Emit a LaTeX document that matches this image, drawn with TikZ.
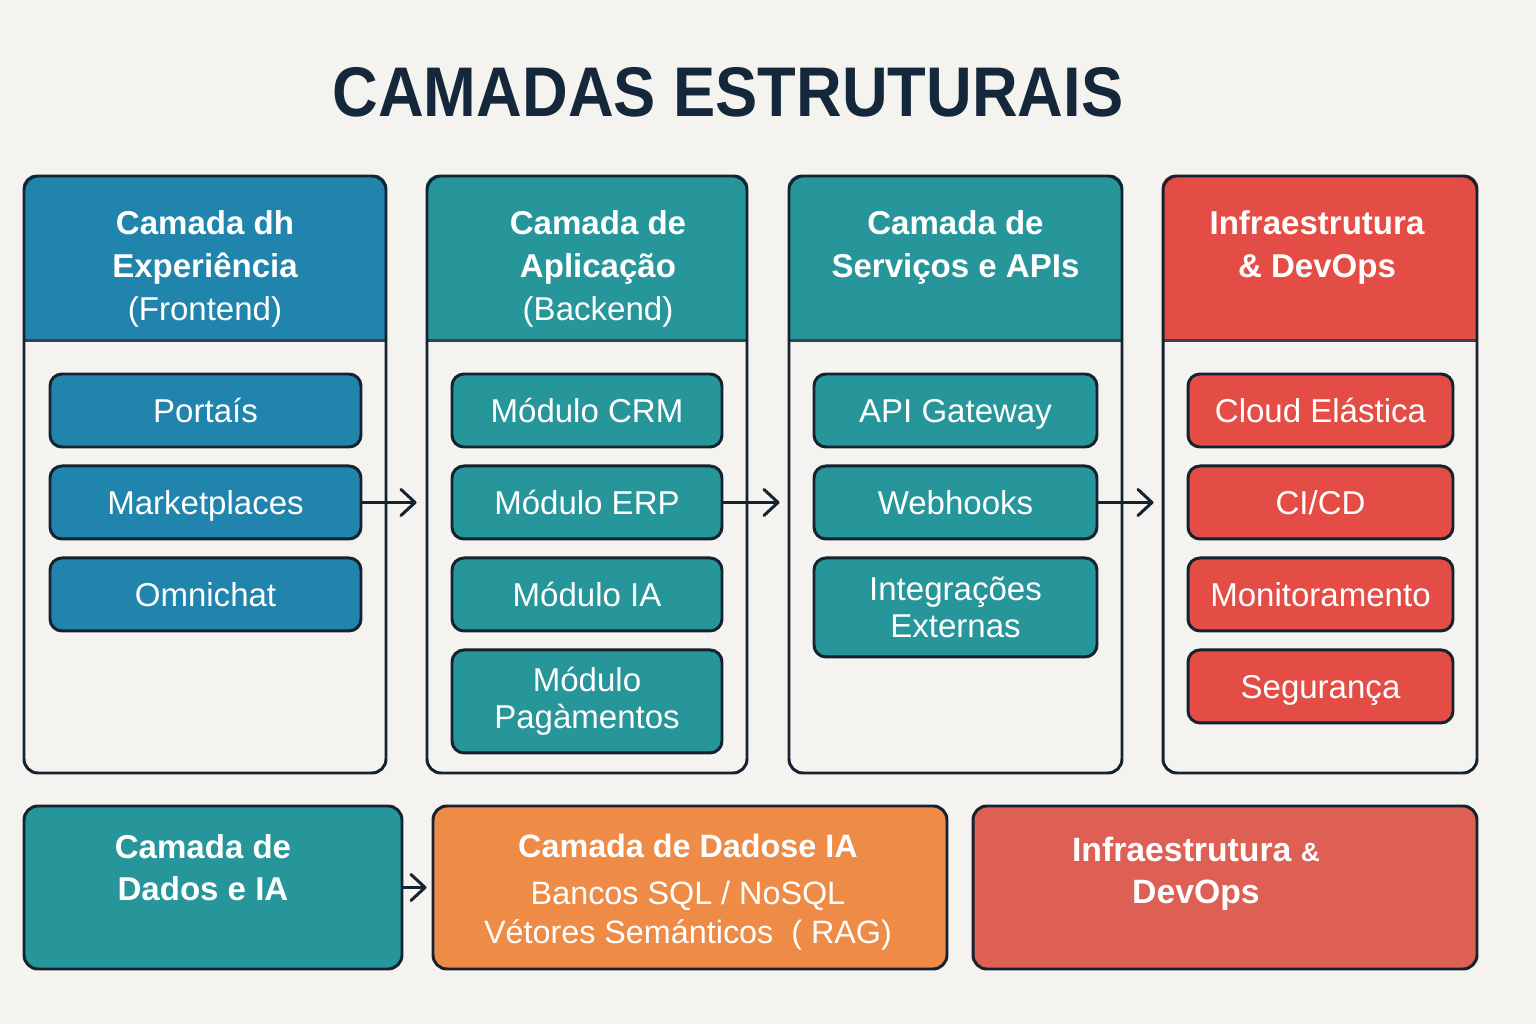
\documentclass[tikz,border=0pt]{standalone}
\usepackage{fontspec}
\setmainfont{Liberation Sans}
\newfontfamily\titlefont[FakeStretch=0.9]{Liberation Sans}
\usetikzlibrary{positioning, calc, arrows.meta, backgrounds}
\definecolor{paper}{HTML}{F4F3EF}
\definecolor{ink}{HTML}{14232F}
\definecolor{titleink}{HTML}{15273A}
\definecolor{frontblue}{HTML}{2184AD}
\definecolor{appteal}{HTML}{26969B}
\definecolor{infrared}{HTML}{E44D45}
\definecolor{dataorange}{HTML}{EE8B47}
\definecolor{opsred}{HTML}{DE6055}

\begin{document}
\begin{tikzpicture}[
    x=0.1mm, y=-0.1mm,
    >={Straight Barb[length=1.4mm,width=2.6mm,round]},
    line width=0.85pt,
    colframe/.style={
        draw=ink,
        rounded corners=1.4mm,
        minimum height=59.7mm,
        inner sep=0pt
    },
    hdtext/.style={
        text=white,
        font=\bfseries\fontsize{9.4}{12.2}\selectfont,
        align=center,
        anchor=north,
        inner sep=0pt
    },
    item/.style={
        draw=ink,
        rounded corners=1.2mm,
        text=white,
        font=\fontsize{9.4}{10.6}\selectfont,
        align=center,
        minimum height=7.3mm,
        text height=2.6mm,
        text depth=0.25mm,
        inner sep=0pt
    },
    twoline/.style={text height=, text depth=},
    expitem/.style={item, fill=frontblue, minimum width=31.1mm},
    appitem/.style={item, fill=appteal, minimum width=27mm},
    apiitem/.style={item, fill=appteal, minimum width=28.3mm},
    infitem/.style={item, fill=infrared, minimum width=26.5mm},
    basebox/.style={
        draw=ink,
        rounded corners=1.4mm,
        minimum height=16.3mm,
        inner sep=0pt
    },
    flow/.style={->, draw=ink, shorten >=0.8mm}
]

% title
\node[font=\titlefont\bfseries\fontsize{20}{24}\selectfont, text=titleink] (title) at (728,92) {CAMADAS ESTRUTURAIS};

% column frames
\node[colframe, minimum width=36.2mm] (col1) at (205,474.5) {};
\node[colframe, minimum width=32mm] (col2) at (587,474.5) {};
\node[colframe, minimum width=33.3mm] (col3) at (955.5,474.5) {};
\node[colframe, minimum width=31.4mm] (col4) at (1320,474.5) {};

\begin{scope}[on background layer]
  \fill[paper] (0,0) rectangle (1536,1024);
  \foreach \col/\clr in {col1/frontblue, col2/appteal, col3/appteal, col4/infrared}{
    \begin{scope}
      \clip[rounded corners=1.4mm] (\col.south west) rectangle (\col.north east);
      \fill[\clr] (\col.north west) rectangle ($(\col.north east)+(0,166)$);
    \end{scope}
    \draw[ink!85, line width=0.7pt] ($(\col.north west)+(0,166)$) -- ($(\col.north east)+(0,166)$);
  }
\end{scope}

% headers
\node[hdtext] (hd1) at ([yshift=-3.45mm]col1.north) {Camada dh\\Experiência\\\mdseries(Frontend)};
\node[hdtext] (hd2) at ([xshift=1.1mm, yshift=-3.45mm]col2.north) {Camada de\\Aplicação\\\mdseries(Backend)};
\node[hdtext] (hd3) at ([yshift=-3.45mm]col3.north) {Camada de\\Serviços e APIs};
\node[hdtext] (hd4) at ([xshift=-0.3mm, yshift=-3.45mm]col4.north) {Infraestrutura\\\& DevOps};

% experience items
\node[expitem] (portais) at (205.5,410.5) {Portaís};
\node[expitem, below=1.6mm of portais] (mkt) {Marketplaces};
\node[expitem, below=1.6mm of mkt] (omni) {Omnichat};

% application items
\node[appitem] (crm) at (587,410.5) {Módulo CRM};
\node[appitem, below=1.6mm of crm] (erp) {Módulo ERP};
\node[appitem, below=1.6mm of erp] (modia) {Módulo IA};
\node[appitem, twoline, below=1.6mm of modia, minimum height=10.3mm] (pag) {Módulo\\Pagàmentos};

% service items
\node[apiitem] (gw) at (955.5,410.5) {API Gateway};
\node[apiitem, below=1.6mm of gw] (hooks) {Webhooks};
\node[apiitem, twoline, below=1.6mm of hooks, minimum height=9.9mm] (ext) {Integrações\\Externas};

% infra items
\node[infitem] (cloud) at (1320.5,410.5) {Cloud Elástica};
\node[infitem, below=1.6mm of cloud] (cicd) {CI/CD};
\node[infitem, below=1.6mm of cicd] (mon) {Monitoramento};
\node[infitem, below=1.6mm of mon] (sec) {Segurança};

% bottom row
\node[basebox, fill=appteal, minimum width=37.8mm] (dados) at (213,887.5) {};
\node[basebox, fill=dataorange, minimum width=51.4mm] (lake) at (690,887.5) {};
\node[basebox, fill=opsred, minimum width=50.4mm] (ops) at (1225,887.5) {};

\node[hdtext, font=\bfseries\fontsize{9.4}{11.9}\selectfont] (dadost) at ([xshift=-1mm, yshift=-2.85mm]dados.north) {Camada de\\Dados e IA};
\node[hdtext, font=\fontsize{9.2}{11.1}\selectfont] (laket) at ([xshift=-0.2mm, yshift=-2.85mm]lake.north) {\textbf{Camada de Dadose IA}\\[0.8mm]Bancos SQL / NoSQL\\Vétores Semánticos\ \ ( RAG)};
\node[hdtext, font=\bfseries\fontsize{9.6}{11.9}\selectfont] (opst) at ([xshift=-2.9mm, yshift=-3.1mm]ops.north) {Infraestrutura {\fontsize{7.5}{9}\selectfont\&}\\DevOps};

% flow arrows
\draw[flow, shorten >=0.9mm] (mkt.east) -- (mkt.east -| col2.west);
\draw[flow] (erp.east) -- (erp.east -| col3.west);
\draw[flow] (hooks.east) -- (hooks.east -| col4.west);
\draw[flow, shorten >=0.5mm] (dados.east) -- (dados.east -| lake.west);

\end{tikzpicture}
\end{document}
